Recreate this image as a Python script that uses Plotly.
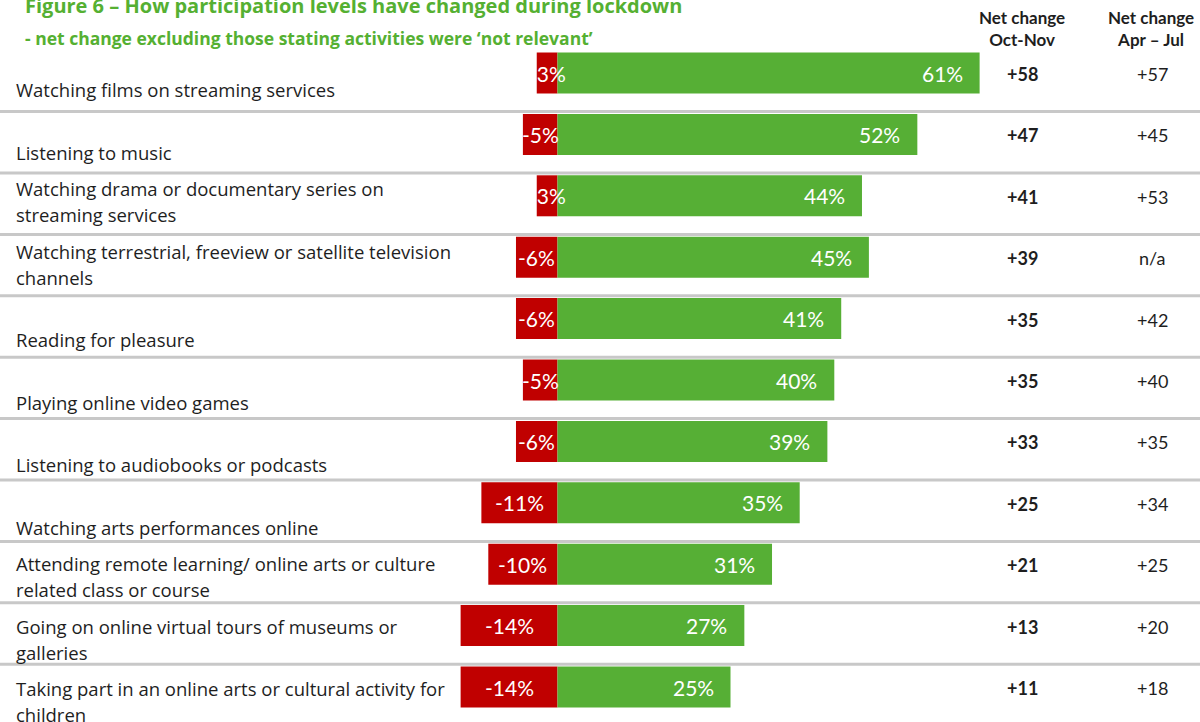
import plotly.graph_objects as go

# Activity categories (top to bottom); "\n" marks a line break in the row label
activities = [
    "Watching films on streaming services",
    "Listening to music",
    "Watching drama or documentary series on\nstreaming services",
    "Watching terrestrial, freeview or satellite television\nchannels",
    "Reading for pleasure",
    "Playing online video games",
    "Listening to audiobooks or podcasts",
    "Watching arts performances online",
    "Attending remote learning/ online arts or culture\nrelated class or course",
    "Going on online virtual tours of museums or\ngalleries",
    "Taking part in an online arts or cultural activity for\nchildren",
]

# Share doing less (negative) and more (positive), %
doing_less = [-3, -5, -3, -6, -6, -5, -6, -11, -10, -14, -14]
doing_more = [61, 52, 44, 45, 41, 40, 39, 35, 31, 27, 25]

# Net change columns
net_oct_nov = ["+58", "+47", "+41", "+39", "+35", "+35", "+33", "+25", "+21", "+13", "+11"]
net_apr_jul = ["+57", "+45", "+53", "n/a", "+42", "+40", "+35", "+34", "+25", "+20", "+18"]

title = "Figure 6 – How participation levels have changed during lockdown"
subtitle = "- net change excluding those stating activities were ‘not relevant’"
col_headers = ["Net change<br>Oct-Nov", "Net change<br>Apr – Jul"]

W, H = 1200, 722
GREEN = "#56AF35"
RED = "#C00000"
TITLE_GREEN = "#55B032"
SEP_GREY = "#C8C8C8"
TEXT = "#1E1E1E"
FONT = "'Open Sans', 'Noto Sans', sans-serif"
NUM_FONT = "Lato, 'Open Sans', sans-serif"

# Layout geometry (pixels)
ZERO_PX = 557.5          # horizontal position of the zero line
PX_PER_PCT = 6.92        # horizontal scale
ROW0_PX = 73.0           # centre of first bar
ROW_PITCH = 61.4         # distance between bar centres
BAR_PX = 41.0            # bar thickness
LABEL0_PX = 89.5         # last text line of first row label
LABEL_PITCH = 62.5
LINE_GAP = 26.0          # gap between the two lines of a wrapped label

x0 = -ZERO_PX / PX_PER_PCT
x1 = x0 + W / PX_PER_PCT
y_top = -ROW0_PX / ROW_PITCH
y_bot = y_top + H / ROW_PITCH

rows = list(range(len(activities)))

def paper_y(px):
    return 1 - px / H

def paper_x(px):
    return px / W

fig = go.Figure()
fig.add_trace(go.Bar(
    y=rows, x=doing_less, orientation="h",
    marker=dict(color=RED, line=dict(width=0)),
    width=BAR_PX / ROW_PITCH, hoverinfo="skip", showlegend=False,
))
fig.add_trace(go.Bar(
    y=rows, x=doing_more, orientation="h",
    marker=dict(color=GREEN, line=dict(width=0)),
    width=BAR_PX / ROW_PITCH, hoverinfo="skip", showlegend=False,
))

annotations = []

# Value labels inside bars
for i, (neg, pos) in enumerate(zip(doing_less, doing_more)):
    annotations.append(dict(
        x=neg / 2, y=i, xref="x", yref="y", text=f"{neg}%", showarrow=False,
        xanchor="center", yanchor="middle",
        font=dict(family=NUM_FONT, size=21, color="white"),
    ))
    annotations.append(dict(
        x=pos, y=i, xref="x", yref="y", text=f"{pos}%", showarrow=False,
        xanchor="right", yanchor="middle", xshift=-15,
        font=dict(family=NUM_FONT, size=21, color="white"),
    ))
    # Net change columns
    annotations.append(dict(
        x=paper_x(1022), y=i, xref="paper", yref="y", yshift=-1,
        text=f"<b>{net_oct_nov[i]}</b>", showarrow=False,
        xanchor="center", yanchor="middle",
        font=dict(family=NUM_FONT, size=18, color=TEXT),
    ))
    annotations.append(dict(
        x=paper_x(1152), y=i, xref="paper", yref="y", yshift=-1,
        text=net_apr_jul[i], showarrow=False,
        xanchor="center", yanchor="middle",
        font=dict(family=NUM_FONT, size=18, color=TEXT),
    ))

# Row labels, one annotation per text line
for i, label in enumerate(activities):
    lines = label.split("\n")
    last_px = LABEL0_PX + LABEL_PITCH * i
    for k, line in enumerate(lines):
        px = last_px - LINE_GAP * (len(lines) - 1 - k)
        annotations.append(dict(
            x=paper_x(14), y=paper_y(px), xref="paper", yref="paper",
            text=line, showarrow=False, xanchor="left", yanchor="middle",
            font=dict(family=FONT, size=18.5, color=TEXT),
        ))

# Column headers
for hx, htxt in zip([1022, 1151], col_headers):
    annotations.append(dict(
        x=paper_x(hx), y=paper_y(29), xref="paper", yref="paper",
        text=f"<b>{htxt}</b>", showarrow=False, xanchor="center", yanchor="middle",
        font=dict(family=NUM_FONT, size=17, color=TEXT),
    ))

# Title and subtitle
annotations.append(dict(
    x=paper_x(23), y=paper_y(5), xref="paper", yref="paper",
    text=f"<b>{title}</b>", showarrow=False, xanchor="left", yanchor="middle",
    font=dict(family=FONT, size=20, color=TITLE_GREEN),
))
annotations.append(dict(
    x=paper_x(23), y=paper_y(37.5), xref="paper", yref="paper",
    text=f"<b>{subtitle}</b>", showarrow=False, xanchor="left", yanchor="middle",
    font=dict(family=FONT, size=17.5, color=TITLE_GREEN),
))

# Row separators
shapes = []
for i in rows[:-1]:
    sep = i + 38.6 / ROW_PITCH
    shapes.append(dict(
        type="line", xref="paper", yref="y", x0=0, x1=1, y0=sep, y1=sep,
        line=dict(color=SEP_GREY, width=3), layer="below",
    ))

fig.update_layout(
    width=W, height=H,
    margin=dict(l=0, r=0, t=0, b=0),
    paper_bgcolor="white", plot_bgcolor="white",
    barmode="relative",
    xaxis=dict(range=[x0, x1], visible=False, fixedrange=True),
    yaxis=dict(range=[y_bot, y_top], visible=False, fixedrange=True),
    annotations=annotations, shapes=shapes,
    font=dict(family=FONT),
)

fig.write_html("out.html", config={"displayModeBar": False})
